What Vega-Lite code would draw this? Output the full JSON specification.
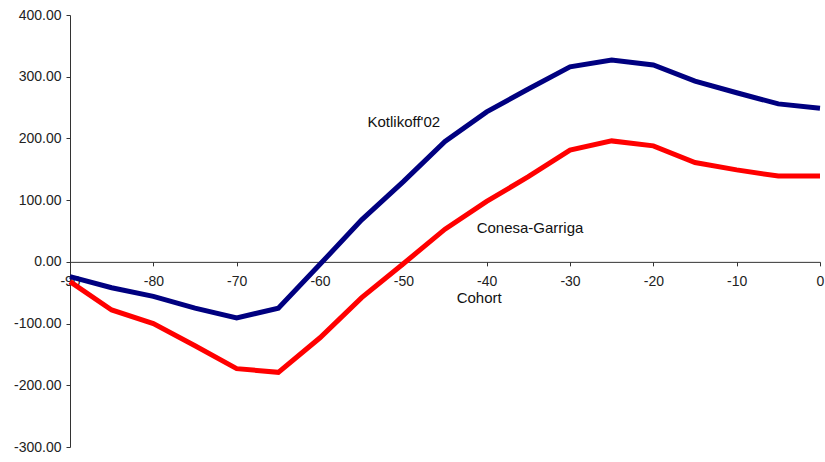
{
  "$schema": "https://vega.github.io/schema/vega-lite/v6.json",
  "autosize": {"type": "none"},
  "width": 750,
  "height": 432,
  "padding": {"left": 70, "top": 15, "right": 5, "bottom": 15},
  "background": "white",
  "config": {"view": {"stroke": null}, "font": "Liberation Sans"},
  "datasets": {
    "series": [
      {"cohort": -90, "series": "Kotlikoff'02", "value": -24},
      {"cohort": -85, "series": "Kotlikoff'02", "value": -42},
      {"cohort": -80, "series": "Kotlikoff'02", "value": -56},
      {"cohort": -75, "series": "Kotlikoff'02", "value": -75},
      {"cohort": -70, "series": "Kotlikoff'02", "value": -91},
      {"cohort": -65, "series": "Kotlikoff'02", "value": -75},
      {"cohort": -60, "series": "Kotlikoff'02", "value": -4},
      {"cohort": -55, "series": "Kotlikoff'02", "value": 68},
      {"cohort": -50, "series": "Kotlikoff'02", "value": 130},
      {"cohort": -45, "series": "Kotlikoff'02", "value": 195},
      {"cohort": -40, "series": "Kotlikoff'02", "value": 243},
      {"cohort": -35, "series": "Kotlikoff'02", "value": 280},
      {"cohort": -30, "series": "Kotlikoff'02", "value": 316},
      {"cohort": -25, "series": "Kotlikoff'02", "value": 327},
      {"cohort": -20, "series": "Kotlikoff'02", "value": 319},
      {"cohort": -15, "series": "Kotlikoff'02", "value": 293},
      {"cohort": -10, "series": "Kotlikoff'02", "value": 274},
      {"cohort": -5, "series": "Kotlikoff'02", "value": 256},
      {"cohort": 0, "series": "Kotlikoff'02", "value": 249},
      {"cohort": -90, "series": "Conesa-Garriga", "value": -32},
      {"cohort": -85, "series": "Conesa-Garriga", "value": -78},
      {"cohort": -80, "series": "Conesa-Garriga", "value": -100},
      {"cohort": -75, "series": "Conesa-Garriga", "value": -136},
      {"cohort": -70, "series": "Conesa-Garriga", "value": -173},
      {"cohort": -65, "series": "Conesa-Garriga", "value": -179},
      {"cohort": -60, "series": "Conesa-Garriga", "value": -123},
      {"cohort": -55, "series": "Conesa-Garriga", "value": -58},
      {"cohort": -50, "series": "Conesa-Garriga", "value": -3},
      {"cohort": -45, "series": "Conesa-Garriga", "value": 53},
      {"cohort": -40, "series": "Conesa-Garriga", "value": 98},
      {"cohort": -35, "series": "Conesa-Garriga", "value": 138},
      {"cohort": -30, "series": "Conesa-Garriga", "value": 181},
      {"cohort": -25, "series": "Conesa-Garriga", "value": 196},
      {"cohort": -20, "series": "Conesa-Garriga", "value": 188},
      {"cohort": -15, "series": "Conesa-Garriga", "value": 161},
      {"cohort": -10, "series": "Conesa-Garriga", "value": 149},
      {"cohort": -5, "series": "Conesa-Garriga", "value": 139},
      {"cohort": 0, "series": "Conesa-Garriga", "value": 139}
    ],
    "labels": [
      {"cohort": -54.3, "value": 226, "label": "Kotlikoff'02"},
      {"cohort": -41.2, "value": 55, "label": "Conesa-Garriga"},
      {"cohort": -43.6, "value": -58, "label": "Cohort"}
    ]
  },
  "layer": [
    {
      "data": {"name": "series"},
      "mark": {"type": "line", "strokeWidth": 5, "clip": false},
      "encoding": {
        "x": {
          "field": "cohort", "type": "quantitative",
          "scale": {"domain": [-90, 0], "nice": false, "zero": false},
          "axis": {
            "values": [-90, -80, -70, -60, -50, -40, -30, -20, -10, 0],
            "labelExpr": "'' + datum.value",
            "offset": -185.14,
            "grid": false,
            "title": null,
            "domainColor": "#333",
            "tickColor": "#333",
            "tickSize": 4,
            "labelPadding": 9,
            "labelFontSize": 14,
            "labelColor": "#222",
            "labelFont": "Liberation Sans",
            "labelOverlap": false,
            "labelFlush": false
          }
        },
        "y": {
          "field": "value", "type": "quantitative",
          "scale": {"domain": [-300, 400], "nice": false},
          "axis": {
            "values": [-300, -200, -100, 0, 100, 200, 300, 400],
            "labelExpr": "replace(format(datum.value, '.2f'), '\u2212', '-')",
            "grid": false,
            "title": null,
            "domainColor": "#333",
            "tickColor": "#333",
            "tickSize": 4,
            "labelPadding": 5,
            "labelFontSize": 14,
            "labelColor": "#222",
            "labelFont": "Liberation Sans"
          }
        },
        "color": {
          "field": "series", "type": "nominal",
          "scale": {"domain": ["Kotlikoff'02", "Conesa-Garriga"], "range": ["#000080", "#FF0000"]},
          "legend": null
        }
      }
    },
    {
      "data": {"name": "labels"},
      "mark": {"type": "text", "fontSize": 15, "font": "Liberation Sans", "color": "#111", "baseline": "middle", "align": "left"},
      "encoding": {
        "x": {"field": "cohort", "type": "quantitative"},
        "y": {"field": "value", "type": "quantitative"},
        "text": {"field": "label"}
      }
    }
  ]
}
